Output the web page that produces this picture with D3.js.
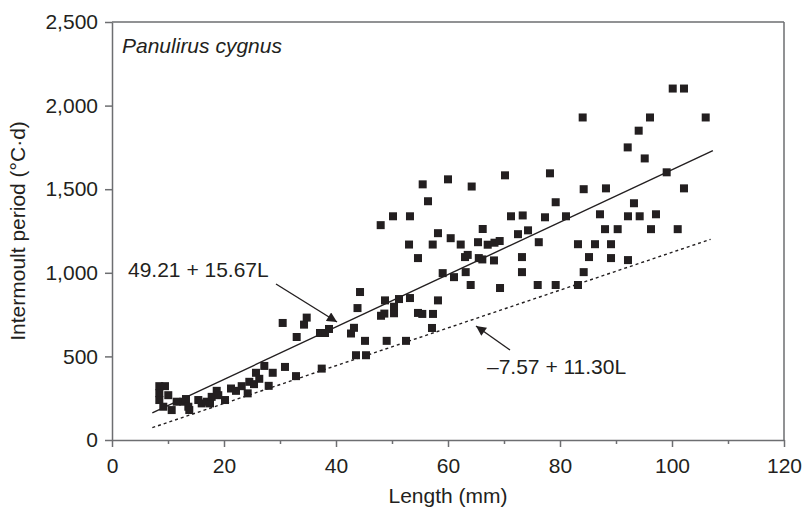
<!DOCTYPE html>
<html><head><meta charset="utf-8">
<script src="https://cdn.jsdelivr.net/npm/d3@7"></script>
<style>
html,body{margin:0;padding:0;background:#fff;}
svg text{font-family:"Liberation Sans",Arial,sans-serif;fill:#231f20;}
</style></head>
<body><svg id="c" width="802" height="511"></svg>
<script>
// Length (mm)
const lengths = [8.45,9.46,8.45,10.05,8.45,9.16,10.66,11.55,12.73,13.21,13.63,13.80,15.41,16.02,16.91,17.5,17.80,18.70,18.98,20.18,
21.25,22.14,23.16,24.23,24.52,25.36,25.71,26.30,27.20,27.98,28.70,30.89,32.86,30.48,32.98,34.29,34.77,37.14,38.04,38.75,
37.45,42.68,43.21,43.84,44.29,43.57,45.36,45.18,49.05,48.04,48.63,48.75,50.36,50.36,51.25,53.21,52.5,54.64,55.41,57.32,
58.21,57.14,54.64,53.04,57.27,58.21,60.48,62.27,65.36,66.20,67.09,68.30,69.23,72.5,74.29,76.21,77.32,63.04,63.52,65.5,
66.13,68.21,73.21,73.21,59.05,61.07,63.16,64.05,69.29,76.02,79.23,47.98,50.18,53.21,56.43,55.48,60.0,64.23,70.18,78.21,
71.25,73.34,79.23,100.13,102.14,84.05,96.07,106.02,94.05,92.09,95.13,99.05,84.23,88.21,102.14,93.21,81.07,87.14,92.14,94.23,
97.14,88.04,90.3,96.25,101.02,83.21,86.25,89.11,85.18,89.11,92.14,84.23,83.21];
// Intermoult period (°C·d)
const periods = [322,322,280,268,239,199,179,229,229,245,199,179,239,219,229,219,258,294,268,239,
308,294,322,279,348,334,402,366,443,324,402,437,382,700,616,690,732,640,640,664,
427,637,671,789,885,507,507,593,593,743,756,835,797,758,843,849,593,760,754,754,
835,670,1088,1169,1169,1237,1207,1169,1183,1262,1168,1180,1190,1231,1254,1183,1332,1094,1107,1088,
1080,1074,1094,1004,998,974,1004,927,909,927,927,1285,1338,1338,1428,1529,1559,1516,1583,1595,
1338,1343,1422,2102,2102,1929,1929,1929,1850,1750,1684,1601,1500,1505,1505,1416,1338,1350,1338,1338,
1350,1261,1261,1261,1261,1171,1171,1171,1094,1088,1076,1004,927];
const xTicks = [0,20,40,60,80,100,120];
const xMinorTicks = [10,30,50,70,90,110];
const yTicks = [0,500,1000,1500,2000,2500];
// regression lines: intercept, slope, L range
const fits = [
  {label:"49.21 + 15.67L", a:49.21, b:15.67, from:7.2, to:107.3, dash:null},
  {label:"\u20137.57 + 11.30L", a:-7.57, b:11.30, from:7.2, to:106.9, dash:"3,3"}
];
const speciesLabel = "Panulirus cygnus";
const xTitle = "Length (mm)";
const yTitle = "Intermoult period (\u00B0C\u00B7d)";

const svg = d3.select("#c");
const x = d3.scaleLinear().domain([0,120]).range([112,784]);
const y = d3.scaleLinear().domain([0,2500]).range([440,22]);
const axisCol = "#6d6e71", ink = "#231f20";

// frame top & right
svg.append("line").attr("x1",x(0)).attr("x2",x(120)).attr("y1",y(2500)).attr("y2",y(2500)).attr("stroke",axisCol).attr("stroke-width",1.5);
svg.append("line").attr("x1",x(120)).attr("x2",x(120)).attr("y1",y(2500)).attr("y2",y(0)).attr("stroke",axisCol).attr("stroke-width",1.5);

// axes
const gx = svg.append("g").attr("transform",`translate(0,${y(0)})`)
  .call(d3.axisBottom(x).tickValues(xTicks).tickSize(7).tickSizeOuter(0).tickPadding(11));
const gxm = svg.append("g").attr("transform",`translate(0,${y(0)})`)
  .call(d3.axisBottom(x).tickValues(xMinorTicks).tickSize(4).tickSizeOuter(0).tickFormat(""));
gxm.select(".domain").remove();
const gy = svg.append("g").attr("transform",`translate(${x(0)},0)`)
  .call(d3.axisLeft(y).tickValues(yTicks).tickSize(7).tickSizeOuter(0).tickPadding(7).tickFormat(d3.format(",")));
[gx,gxm,gy].forEach(g=>{
  g.selectAll("path,line").attr("stroke",axisCol).attr("stroke-width",1.5);
  g.selectAll("text").attr("font-size",21).attr("fill",ink).attr("font-family","Liberation Sans, Arial, sans-serif");
});

// fit lines
fits.forEach(f=>{
  svg.append("line").attr("x1",x(f.from)).attr("y1",y(f.a+f.b*f.from))
    .attr("x2",x(f.to)).attr("y2",y(f.a+f.b*f.to))
    .attr("stroke",ink).attr("stroke-width",1.4).attr("stroke-dasharray",f.dash);
});

// points
const data = lengths.map((L,i)=>({L,p:periods[i]}));
svg.append("g").selectAll("rect").data(data).join("rect")
  .attr("x",d=>x(d.L)-4).attr("y",d=>y(d.p)-4).attr("width",8).attr("height",8).attr("fill",ink);

// arrows
const defs = svg.append("defs");
defs.append("marker").attr("id","ah").attr("viewBox","0 0 10 10").attr("refX",10).attr("refY",5)
  .attr("markerWidth",11).attr("markerHeight",10).attr("markerUnits","userSpaceOnUse").attr("orient","auto")
  .append("path").attr("d","M0,0L10,5L0,10Z").attr("fill",ink);
svg.append("line").attr("x1",276).attr("y1",284).attr("x2",337).attr("y2",322)
  .attr("stroke",ink).attr("stroke-width",1.4).attr("marker-end","url(#ah)");
svg.append("line").attr("x1",510).attr("y1",350).attr("x2",476).attr("y2",326)
  .attr("stroke",ink).attr("stroke-width",1.4).attr("marker-end","url(#ah)");

// labels
svg.append("text").attr("x",128).attr("y",277).attr("font-size",21).text(fits[0].label);
svg.append("text").attr("x",487).attr("y",374).attr("font-size",21).text(fits[1].label);
svg.append("text").attr("x",122).attr("y",53).attr("font-size",21).attr("font-style","italic").text(speciesLabel);
svg.append("text").attr("x",(x(0)+x(120))/2).attr("y",503).attr("font-size",21).attr("text-anchor","middle").text(xTitle);
svg.append("text").attr("transform",`translate(25,${(y(0)+y(2500))/2}) rotate(-90)`).attr("font-size",21)
  .attr("text-anchor","middle").text(yTitle);
</script></body></html>
